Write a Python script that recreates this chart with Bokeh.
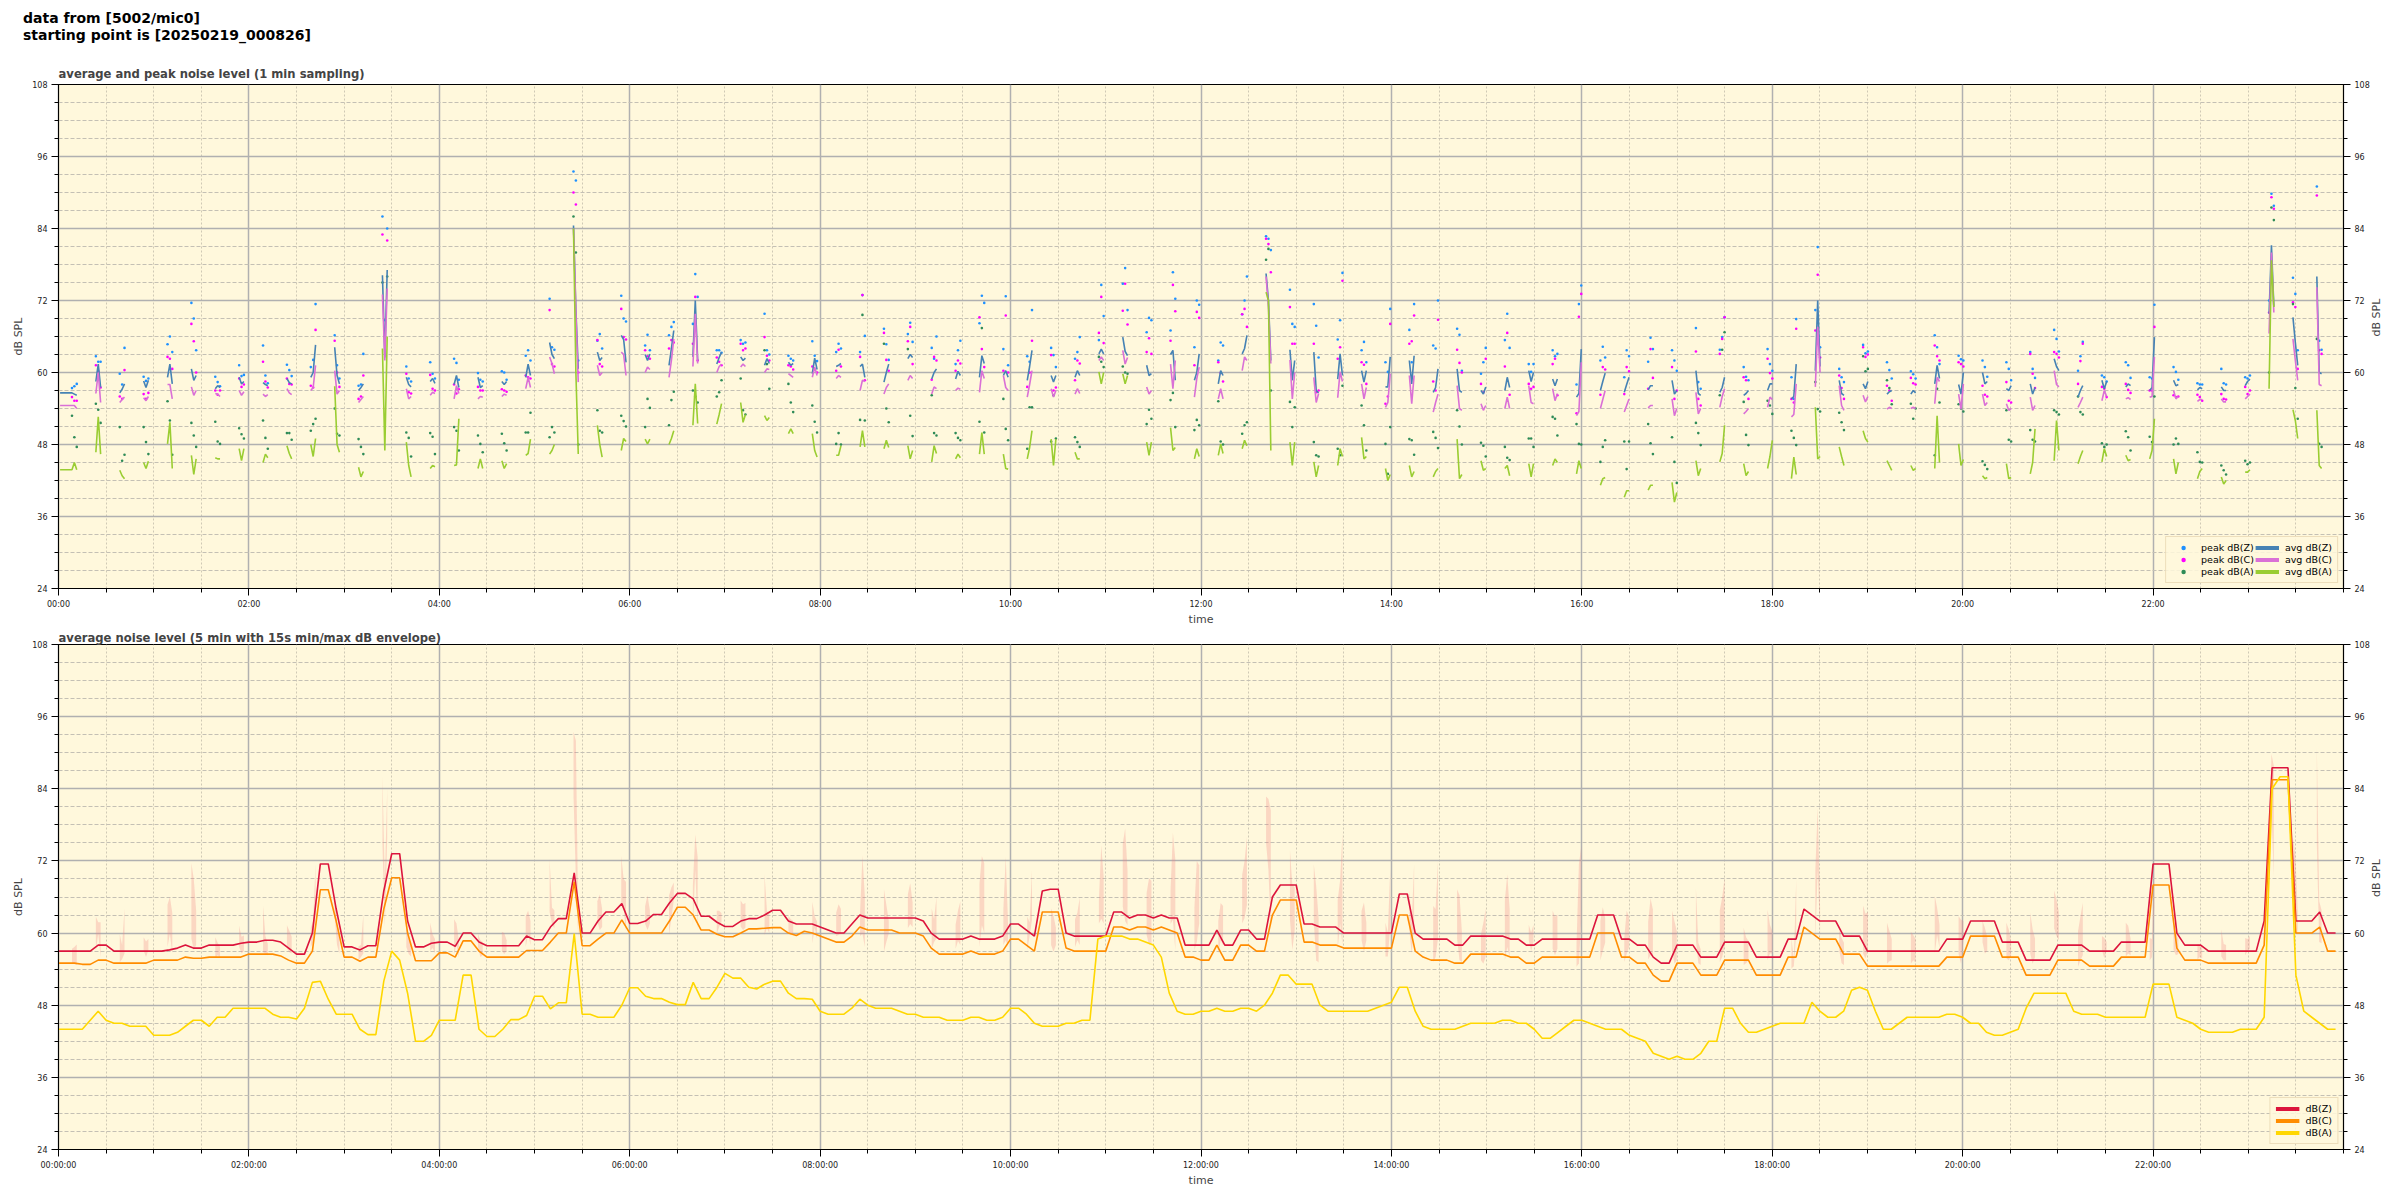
import math
from bokeh.plotting import figure
from bokeh.models import Range1d, FixedTicker, LinearAxis, Legend, LegendItem, Div
from bokeh.layouts import column
from bokeh.embed import file_html
from bokeh.resources import INLINE

nan = float("nan")
FONT = "DejaVu Sans"

# ---------------- texts ----------------
suptitle_lines = ["data from [5002/mic0]", "starting point is [20250219_000826]"]
title_top = "average and peak noise level (1 min sampling)"
title_bottom = "average noise level (5 min with 15s min/max dB envelope)"
hour_ticks = [0, 120, 240, 360, 480, 600, 720, 840, 960, 1080, 1200, 1320]
top_tick_labels = ["00:00", "02:00", "04:00", "06:00", "08:00", "10:00", "12:00",
                   "14:00", "16:00", "18:00", "20:00", "22:00"]
bottom_tick_labels = ["00:00:00", "02:00:00", "04:00:00", "06:00:00", "08:00:00", "10:00:00",
                      "12:00:00", "14:00:00", "16:00:00", "18:00:00", "20:00:00", "22:00:00"]
db_ticks = [24, 36, 48, 60, 72, 84, 96, 108]

# ---------------- top panel: 1-min samples, recorded in bursts every ~15 min ----------------
burst_first_min = 8.5
burst_period_min = 15.05
sample_offsets_min = [0.0, 1.5, 3.0]
lead_t = [1.0]
lead_z = [56.6]
lead_c = [54.5]
lead_a = [43.8]

avg_z = [
 [56.6,56.4,56.2],[58.5,61.4,57.5],[56.6,57.2,58.1],[58.6,57.5,58.7],[59.2,61.4,58.1],
 [60.6,58.7,59.5],[57.3,57.8,57.5],[59.2,58.1,58.5],[58.3,58.0,57.8],[59.0,58.3,58.1],
 [59.2,60.0,64.6],[64.2,59.5,58.1],[57.0,57.5,58.1],[76.2,62.5,77.1],[59.2,58.0,57.6],
 [58.5,59.0,58.2],[58.0,59.5,57.5],[59.2,57.5,57.8],[58.5,58.0,58.5],[59.2,61.4,59.5],
 [65.0,63.0,62.3],[84.5,70.5,60.6],[63.4,62.0,62.5],[66.2,65.5,61.7],[63.0,62.0,63.1],
 [61.2,64.0,67.0],[62.6,72.0,62.0],[61.4,62.5,63.4],[62.6,62.0,62.4],[61.2,62.3,61.5],
 [61.7,61.2,61.5],[59.8,62.4,60.5],[61.0,61.2,61.5],[61.0,61.4,59.2],[58.4,60.0,61.4],
 [62.3,63.0,62.5],[58.9,60.0,60.6],[58.9,60.2,59.5],[59.2,62.8,61.5],[59.5,60.3,59.2],
 [58.7,61.0,63.7],[59.5,58.4,59.5],[59.2,60.3,59.5],[63.1,63.9,63.1],[65.9,63.5,62.8],
 [61.2,59.5,59.8],[63.0,63.7,58.7],[58.7,60.0,63.1],[58.1,60.3,59.5],[63.1,64.0,66.2],
 [76.5,72.0,62.0],[63.8,58.7,62.0],[63.4,57.0,56.6],[58.9,63.1,59.5],[60.3,58.4,60.3],
 [57.6,57.6,62.6],[62.0,58.1,62.8],[56.7,57.5,60.6],[60.6,57.0,56.7],[57.0,56.4,57.6],
 [57.0,59.2,57.5],[60.3,58.5,60.0],[58.9,57.8,58.9],[55.9,56.5,63.9],[57.0,58.5,59.9],
 [56.7,58.0,59.2],[57.1,57.8,57.8],[58.7,56.4,57.0],[60.3,56.5,56.2],[56.7,57.5,59.2],
 [56.2,56.5,57.0],[57.0,58.1,58.1],[55.6,56.0,61.4],[60.3,72.0,61.0],[58.7,56.5,56.2],
 [58.1,57.3,58.5],[56.4,56.8,57.0],[56.4,57.0,56.6],[58.1,61.2,59.0],[58.0,56.4,60.0],
 [60.0,58.1,58.5],[57.3,57.0,57.8],[58.1,56.4,57.5],[62.3,61.0,60.3],[55.9,57.0,57.8],
 [58.7,57.3,58.5],[57.6,58.1,57.8],[57.0,57.5,65.9],[58.7,57.8,58.0],[57.1,57.5,57.3],
 [57.6,57.0,57.0],[57.8,58.5,58.9],[69.8,81.2,71.0],[69.2,65.0,61.2],[76.0,60.0,59.8]]

avg_c = [
 [54.5,54.5,54.0],[56.5,60.0,55.0],[55.0,55.5,55.9],[55.8,55.3,56.0],[58.0,58.0,55.6],
 [57.6,56.2,57.0],[56.5,56.4,56.0],[57.0,56.2,56.8],[56.4,56.0,56.3],[57.3,56.6,56.3],
 [57.0,57.5,61.2],[60.3,56.4,57.0],[55.0,55.5,56.0],[73.0,62.0,74.0],[57.3,55.6,56.0],
 [56.2,56.7,56.5],[55.6,57.8,56.5],[55.6,56.0,55.9],[56.0,56.4,56.2],[57.3,59.2,57.5],
 [62.6,61.5,59.8],[84.0,70.0,58.4],[61.2,59.5,60.0],[63.4,63.0,59.5],[60.0,60.9,60.5],
 [59.2,62.0,65.6],[61.0,69.8,61.5],[60.0,61.0,61.4],[60.9,61.4,61.0],[60.0,60.6,60.5],
 [59.8,59.5,59.2],[59.2,60.9,59.5],[59.0,59.5,59.2],[57.0,58.7,58.5],[56.4,57.5,58.1],
 [58.7,59.5,59.0],[56.4,57.6,57.3],[57.0,57.4,57.2],[56.7,60.3,59.0],[59.5,57.5,57.0],
 [55.9,58.0,60.3],[57.3,55.9,57.0],[56.4,57.3,56.5],[62.0,62.6,62.0],[63.7,61.4,62.5],
 [57.6,56.4,57.0],[61.4,57.3,62.0],[55.9,59.0,60.9],[55.6,57.3,55.6],[60.3,62.6,62.0],
 [76.0,71.0,61.5],[62.1,55.6,60.0],[59.2,55.0,56.5],[55.8,60.1,58.5],[58.1,55.6,57.5],
 [54.2,55.0,59.8],[59.5,54.8,59.5],[53.4,55.0,56.4],[57.8,54.0,53.7],[54.8,53.7,54.5],
 [54.0,55.9,54.0],[57.8,55.0,54.8],[57.3,55.3,56.5],[52.8,53.5,61.7],[54.0,55.5,57.0],
 [53.4,54.5,55.6],[54.1,54.5,54.5],[55.6,52.8,54.0],[56.7,53.1,54.0],[54.2,56.0,57.3],
 [53.1,53.5,54.0],[54.2,55.9,55.5],[52.6,53.0,58.1],[57.6,67.6,60.0],[57.8,54.5,53.7],
 [56.2,55.1,56.0],[53.9,54.2,54.0],[54.0,54.2,54.0],[54.8,59.2,58.5],[56.4,53.9,58.1],
 [56.4,54.5,55.0],[54.8,53.7,54.0],[55.9,53.7,54.5],[60.3,58.0,57.6],[54.2,55.0,55.9],
 [55.3,57.0,56.0],[55.6,55.8,55.5],[55.9,56.0,62.6],[57.0,55.6,56.0],[55.2,55.5,55.5],
 [55.6,55.1,55.1],[55.6,56.0,56.4],[66.5,80.0,70.0],[65.6,62.0,58.7],[74.2,58.0,57.8]]

avg_a = [
 [43.8,45.0,43.8],[46.7,52.6,46.4],[43.7,42.8,42.3],[45.0,44.0,45.2],[48.1,51.7,44.0],
 [46.2,43.0,45.6],[45.8,45.6,45.6],[47.3,45.3,47.3],[45.0,46.4,45.8],[47.8,46.5,45.6],
 [48.0,46.0,49.0],[57.7,48.0,46.7],[44.2,42.6,43.5],[64.0,47.0,66.0],[48.4,44.5,42.6],
 [44.0,44.5,44.3],[44.5,44.6,52.3],[44.0,45.6,44.0],[45.3,44.0,44.8],[46.2,46.5,48.9],
 [46.4,47.0,48.0],[84.0,60.0,46.4],[51.2,48.0,45.9],[47.0,49.0,48.5],[48.9,48.1,48.9],
 [48.0,49.0,50.3],[51.2,58.1,51.5],[51.4,53.0,54.8],[55.0,51.7,53.0],[52.8,52.0,52.5],
 [49.8,50.6,49.8],[49.8,47.0,45.9],[46.2,46.2,47.8],[47.6,50.3,47.6],[47.3,48.7,47.5],
 [47.8,45.6,47.0],[45.1,47.8,46.5],[45.6,46.4,45.8],[46.4,50.0,46.4],[46.4,44.0,43.9],
 [45.6,47.5,50.3],[48.9,44.5,48.9],[46.7,45.6,45.6],[60.1,58.1,60.0],[59.8,58.1,59.5],
 [48.4,46.2,48.4],[50.8,47.0,47.5],[45.6,47.3,46.0],[46.2,48.1,46.5],[47.3,48.7,47.8],
 [73.4,72.0,47.0],[48.4,44.5,48.4],[45.1,42.6,44.5],[44.5,47.3,46.0],[49.2,45.6,46.0],
 [44.0,42.0,43.0],[44.5,42.6,43.5],[42.6,43.5,44.0],[48.9,42.3,43.0],[45.3,43.7,44.0],
 [44.0,44.5,42.8],[44.8,42.6,44.8],[44.5,45.6,45.0],[43.1,45.3,44.0],[41.2,42.3,42.5],
 [39.2,40.3,40.3],[40.4,41.2,41.2],[41.7,38.4,40.0],[45.3,42.8,44.0],[45.1,46.5,51.2],
 [44.8,42.8,43.5],[44.0,46.0,48.7],[42.3,45.9,43.0],[54.2,45.6,46.0],[47.6,46.0,44.5],
 [50.3,49.0,48.4],[45.3,44.5,43.7],[44.5,43.7,44.0],[44.0,52.8,45.0],[48.1,44.5,45.5],
 [42.8,42.3,42.5],[44.8,42.3,42.5],[43.1,45.0,50.6],[45.3,52.0,47.0],[44.8,46.0,47.0],
 [45.1,47.3,46.0],[46.2,45.3,45.5],[45.6,47.0,52.3],[45.6,43.1,45.0],[42.3,43.5,44.0],
 [42.6,41.4,42.0],[43.4,43.4,43.8],[57.3,78.7,70.9],[53.8,52.0,49.0],[53.7,44.5,44.0]]

peak_z = [
 [57.4,57.7,58.1],[62.7,61.8,61.8],[59.8,58.0,64.1],[59.3,58.6,59.0],[64.7,66.0,63.4],
 [71.6,69.0,63.7],[59.3,58.4,57.7],[61.2,59.4,59.6],[64.5,59.5,58.2],[61.3,60.4,59.4],
 [60.9,62.1,71.4],[66.2,61.2,59.0],[57.8,58.0,63.1],[86.0,68.7,84.0],[61.0,59.0,58.5],
 [61.7,59.8,59.0],[62.3,61.6,58.8],[59.9,58.8,58.5],[60.2,60.0,58.8],[62.8,63.7,62.0],
 [72.3,64.2,63.8],[93.5,92.0,62.0],[65.3,66.4,64.0],[72.8,69.0,68.5],[64.5,66.3,63.7],
 [66.2,67.6,68.4],[68.1,76.4,72.6],[63.7,63.7,63.3],[65.4,64.8,65.0],[69.8,63.7,63.0],
 [62.8,62.3,62.0],[65.2,62.8,61.9],[63.4,64.8,64.0],[63.4,72.9,66.1],[67.3,64.7,62.1],
 [66.4,68.3,65.1],[64.1,62.3,66.0],[61.4,63.7,65.3],[68.2,72.8,71.6],[63.9,72.7,61.2],
 [62.7,61.8,70.4],[64.1,62.9,60.9],[62.3,63.4,65.9],[65.4,74.6,69.4],[74.8,77.4,70.4],
 [66.7,69.1,68.7],[67.0,76.7,72.3],[64.2,72.0,71.3],[62.0,65.0,64.5],[69.7,72.0,76.0],
 [82.7,82.3,80.4],[73.8,68.1,67.6],[71.4,67.8,62.5],[65.5,68.7,76.6],[63.7,65.1,61.7],
 [61.7,60.1,70.6],[67.1,61.7,71.4],[64.5,64.0,72.0],[67.3,66.3,60.3],[59.8,61.7,64.1],
 [65.4,69.8,64.1],[61.4,60.1,61.4],[63.7,62.7,63.1],[58.0,71.4,74.5],[62.0,64.3,62.5],
 [59.2,63.7,62.7],[61.8,65.8,63.9],[63.7,62.0,60.3],[67.4,58.4,57.3],[63.8,65.9,69.2],
 [60.9,59.3,58.7],[63.9,61.4,60.3],[59.2,55.6,68.9],[70.4,80.9,64.2],[60.6,59.2,58.4],
 [64.6,63.2,63.5],[61.7,60.4,59.0],[60.2,59.7,59.0],[66.2,64.2,61.4],[62.8,62.2,62.0],
 [62.0,60.9,59.3],[61.7,60.6,58.7],[63.4,60.6,59.1],[67.1,65.6,63.5],[60.3,62.7,65.1],
 [59.5,59.2,58.5],[61.7,61.2,59.1],[59.2,59.0,71.3],[60.9,60.1,58.8],[58.2,58.0,58.0],
 [60.6,58.2,58.0],[59.2,59.0,59.5],[72.0,89.8,87.8],[75.8,73.1,63.7],[91.0,65.3,63.8]]

peak_c = [
 [55.9,55.3,55.3],[61.2,60.2,57.5],[56.0,55.6,60.4],[56.4,55.6,56.6],[62.6,62.3,60.6],
 [68.1,65.2,60.0],[57.0,56.3,57.0],[59.0,57.6,58.0],[61.8,58.5,57.5],[59.0,58.1,58.0],
 [57.8,57.5,67.1],[65.3,60.0,57.6],[55.6,56.0,59.5],[83.0,67.0,82.0],[59.8,56.7,56.5],
 [59.6,57.3,57.0],[58.0,56.5,57.2],[57.6,57.0,57.0],[57.2,57.0,56.8],[59.5,59.2,59.0],
 [70.4,61.4,61.0],[90.0,88.0,60.0],[65.4,61.4,61.0],[70.6,65.9,65.5],[63.7,62.7,62.3],
 [64.0,65.4,65.0],[64.8,72.6,62.0],[62.5,61.8,61.2],[64.8,63.7,64.0],[65.9,62.8,62.0],
 [61.2,61.0,60.5],[61.0,60.5,60.0],[60.3,63.8,61.0],[62.6,72.9,58.7],[66.6,62.1,60.3],
 [65.2,67.6,61.4],[58.8,62.6,62.0],[60.3,62.0,61.5],[69.2,63.9,60.9],[60.3,69.5,60.0],
 [57.6,60.0,65.3],[62.9,57.0,57.5],[58.7,62.0,61.5],[66.6,72.6,64.9],[70.3,74.8,68.0],
 [63.4,65.7,63.1],[65.3,74.6,70.2],[61.2,70.1,69.1],[61.7,59.9,58.5],[69.7,70.6,67.6],
 [82.3,81.4,76.7],[70.9,64.8,64.8],[64.8,56.7,57.0],[62.3,64.2,75.3],[61.7,61.3,58.1],
 [54.8,56.0,68.1],[64.8,65.2,69.5],[58.5,57.0,68.8],[63.8,61.6,60.0],[58.1,56.7,62.3],
 [61.0,66.6,56.3],[58.1,57.3,57.6],[61.4,62.3,56.2],[53.2,69.3,73.1],[56.3,60.9,60.5],
 [56.4,60.9,60.2],[57.3,63.9,59.1],[60.9,55.6,57.0],[63.5,55.6,54.5],[63.1,65.6,69.2],
 [59.2,58.7,55.6],[62.3,59.9,59.0],[55.6,55.0,67.3],[67.0,76.3,62.5],[59.5,57.4,55.6],
 [64.2,62.6,63.0],[57.8,57.0,55.3],[59.1,58.2,58.0],[64.5,62.7,62.0],[61.7,61.4,61.0],
 [57.8,56.3,56.0],[58.4,55.3,55.0],[63.1,59.8,57.4],[63.4,63.1,62.5],[58.1,61.9,64.8],
 [57.6,57.3,55.9],[58.1,57.1,56.6],[57.0,57.0,67.6],[56.2,55.9,56.0],[56.3,55.9,55.3],
 [56.4,55.6,55.5],[57.6,56.4,57.0],[70.0,89.2,87.3],[71.7,70.9,60.6],[89.5,63.7,63.1]]

peak_a = [
 [52.8,49.2,47.6],[54.8,53.8,51.6],[50.9,45.3,46.3],[50.9,48.4,46.4],[55.2,52.0,46.3],
 [51.6,49.5,47.6],[51.8,48.5,48.1],[50.7,49.7,49.0],[52.0,49.1,47.3],[49.9,49.9,48.8],
 [50.3,51.4,52.3],[54.0,49.8,49.5],[48.9,47.6,46.4],[75.0,66.0,76.0],[50.0,49.1,46.0],
 [49.9,49.3,46.4],[50.9,50.3,47.0],[49.5,48.1,46.7],[49.8,48.2,47.0],[50.0,50.0,53.3],
 [49.2,50.9,50.0],[86.0,80.0,48.0],[53.7,50.3,50.0],[52.8,51.9,51.0],[50.9,55.6,54.1],
 [51.2,55.4,56.8],[57.0,56.0,55.0],[56.0,56.7,58.7],[59.0,53.7,53.0],[63.7,61.4,57.3],
 [58.1,55.0,53.4],[54.5,51.8,50.0],[48.1,49.9,48.0],[52.1,69.6,52.0],[64.8,54.0,51.7],
 [63.9,52.8,49.4],[56.2,49.9,49.5],[49.9,49.1,48.7],[51.8,67.4,50.0],[55.6,50.6,48.7],
 [47.3,54.2,54.2],[48.5,56.2,49.0],[49.2,48.4,47.6],[62.6,61.8,60.9],[61.0,60.0,59.8],
 [51.4,53.8,52.3],[55.4,56.6,50.9],[50.4,52.1,51.2],[55.2,48.5,48.0],[49.8,51.2,51.7],
 [78.8,80.6,57.0],[55.1,50.9,54.2],[48.4,46.2,46.0],[47.3,46.2,57.8],[54.5,51.2,47.0],
 [48.1,43.1,50.9],[48.9,48.7,46.3],[50.1,49.1,47.4],[53.7,51.0,48.0],[48.3,47.8,46.0],
 [47.6,45.8,45.4],[49.0,49.0,47.6],[52.6,52.3,49.5],[51.4,48.1,48.0],[45.1,47.6,48.7],
 [48.5,43.9,48.5],[51.4,48.2,46.4],[49.2,45.1,41.6],[51.6,49.9,47.9],[56.2,63.8,66.7],
 [55.1,49.6,47.9],[55.3,54.5,53.1],[50.3,49.1,47.9],[58.4,53.9,53.5],[53.3,51.7,50.4],
 [62.7,60.2,60.6],[58.7,57.4,54.7],[54.8,52.3,54.0],[46.2,57.3,55.0],[54.7,54.0,53.5],
 [45.2,44.6,43.9],[53.7,48.8,48.5],[50.4,48.8,48.5],[53.7,53.4,53.0],[56.0,53.4,53.0],
 [48.2,47.6,48.0],[50.2,49.2,47.0],[49.3,48.4,56.0],[48.0,49.0,48.1],[46.7,45.1,45.0],
 [44.5,43.7,43.0],[45.3,44.7,45.0],[60.0,87.5,85.4],[71.4,57.4,52.3],[65.6,48.1,47.6]]

# ---------------- bottom panel: 5-min averages (one row = one hour) ----------------
bot_z = [
 57,57,57,57,57,58,58,57,57,57,57,57,
 57,57,57.2,57.5,58,57.5,57.5,58,58,58,58,58.3,
 58.5,58.5,58.8,58.8,58.5,57.5,56.5,56.5,60,71.5,71.5,64,
 57.7,57.7,57.2,57.9,57.9,67,73.2,73.2,62,57.7,57.7,58.3,
 58.5,58.5,57.8,60,60,58.5,57.9,57.9,57.9,57.9,57.9,59.5,
 58.9,58.9,61,62.4,62.4,70,60,60,62,63.5,63.5,64.9,
 61.6,61.6,62,63.1,63.1,65,66.6,66.6,65.7,62.8,62.8,61.8,
 61.1,61.1,62,62.4,62.4,63,63.8,63.8,62,61.5,61.5,61.5,
 61,60.5,60,60,61.5,63,62.5,62.5,62.5,62.5,62.5,62.5,
 62.5,62,60,59,59,59,59,59.5,59,59,59,59.5,
 61.5,61.5,60.5,59.5,67,67.3,67.3,60,59.5,59.5,59.5,59.5,
 59.5,63.5,63.5,62.5,63,63,62.5,63,62.5,62.5,58,58,
 58,58,60.5,58,58,60.5,60.5,59,59,66,68,68,
 68,61.5,61.5,61,61,61,60,60,60,60,60,60,
 60,66.5,66.5,60,59,59,59,59,58,58,59.5,59.5,
 59.5,59.5,59.5,59,59,58,58,59,59,59,59,59,
 59,59,63,63,63,59,59,58,58,56,55,55,
 58,58,58,56,56,56,58.5,58.5,58.5,58.5,56,56,
 56,56,59,59,64,63,62,62,62,59.5,59.5,59.5,
 57,57,57,57,57,57,57,57,57,57,59,59,
 59,62,62,62,62,58.5,58.5,58.5,55.5,55.5,55.5,55.5,
 58,58,58,58,57,57,57,57,58.5,58.5,58.5,58.5,
 71.5,71.5,71.5,60,58,58,58,57,57,57,57,57,
 57,57,62,87.5,87.5,87.5,62,62,62,63.5,60,60]

bot_c = [
 55,55,55,54.8,54.8,55.5,55.5,55,55,55,55,55,
 55.5,55.5,55.5,55.5,56,55.8,55.8,56,56,56,56,56,
 56.5,56.5,56.5,56.5,56.2,55.5,55,55,57,67.2,67.2,62,
 56,56,55.3,56,56,64,69.2,69.2,60,55.4,55.4,55.4,
 56.7,56.7,56,58.7,58.7,57,56,56,56,56,56,57.1,
 57.1,57.1,58.5,60,60,68.5,57.9,57.9,59,60,60,62.2,
 60,60,60,60,60,62,64.3,64.3,63,60.5,60.5,59.8,
 59.4,59.4,60,60.7,60.7,60.8,60.9,60.9,60,59.6,60.3,60,
 59.5,59,58.5,58.5,59.5,61,60.5,60.5,60.5,60.5,60,60,
 60,59.5,57.5,56.5,56.5,56.5,56.5,57,56.5,56.5,56.5,57,
 59,59,58,57,63.5,63.5,63.5,57.5,57,57,57,57,
 57,61,61,60.5,61,61,60.5,61,60.5,60,56,56,
 55.5,55.5,58,55.5,55.5,58,58,57,57,63,65.5,65.5,
 65.5,58.5,58.5,58,58,58,57.5,57.5,57.5,57.5,57.5,57.5,
 57.5,63,63,57,56,55.5,55.5,55.5,55,55,56.5,56.5,
 56.5,56.5,56.5,56,56,55,55,56,56,56,56,56,
 56,56,60,60,60,56,56,55,55,53,52,52,
 55,55,55,53,53,53,55.5,55.5,55.5,55.5,53,53,
 53,53,56,56,61,60,59,59,59,56.5,56.5,56.5,
 54.5,54.5,54.5,54.5,54.5,54.5,54.5,54.5,54.5,54.5,56,56,
 56,59.5,59.5,59.5,59.5,56,56,56,53,53,53,53,
 55.5,55.5,55.5,55.5,54.5,54.5,54.5,54.5,56,56,56,56,
 68,68,68,57.5,55.5,55.5,55.5,55,55,55,55,55,
 55,55,58,85.5,85.5,85.5,60,60,60,61,57,57]

bot_a = [
 44,44,44,44,45.5,47,45.5,45,45,44.5,44.5,44.5,
 43,43,43,43.5,44.5,45.5,45.5,44.5,46,46,47.5,47.5,
 47.5,47.5,47.5,46.5,46,46,45.7,47.5,51.8,52,49,46.5,
 46.5,46.5,44,43.1,43.1,52,57,55.5,50,42,42,43,
 45.5,45.5,45.5,53,53,44,42.8,42.8,44,45.6,45.6,46.3,
 49.5,49.5,47.4,48.4,48.4,59.9,46.5,46.5,46,46,46,48,
 50.9,50.9,49.5,49.1,49.1,48.5,48.1,48.1,51.8,49.1,49.1,51,
 53.3,52.5,52.5,51,50.7,51.5,52,52,50,49.1,49.1,49,
 47,46.5,46.5,46.5,47.5,49,48,47.5,47.5,47.5,47,46.5,
 46.5,46,46,46,45.5,45.5,45.5,46,46,45.5,45.5,46,
 47.5,47.5,46.5,45,44.5,44.5,44.5,45,45,45.5,45.5,59,
 59.5,59.5,59.5,59,59,58.5,58,56,50,47,46.5,46.5,
 47,47,47.5,47,47,47.5,47.5,47,48,50,53,53,
 51.5,51.5,51.5,48,47,47,47,47,47,47,47.5,48,
 48.5,51,51,47,44.5,44,44,44,44,44.5,45,45,
 45,45,45.5,45.5,45,45,44,42.5,42.5,43.5,44.5,45.5,
 45.5,45,44.5,44,44,44,43,42.5,42,40,39.5,39,
 39.5,39,39,40,42,42,47.5,47.5,45,43.5,43.5,44,
 44.5,45,45,45,45,48.5,47,46,46,47,50.5,51,
 50.5,47,44,44,45,46,46,46,46,46,46.5,46.5,
 46,45,45,43.5,43,43,43.5,44,47.5,50,50,50,
 50,50,47,46.5,46.5,46.5,46,46,46,46,46,46,
 51.5,51.5,51.5,46,45.5,45,44,43.5,43.5,43.5,43.5,44,
 44,44,46,84,86,86,53,47,46,45,44,44]

# ---------------- colours ----------------
C_AVG = {"Z": "#4682b4", "C": "#da70d6", "A": "#9acd32"}
C_PEAK = {"Z": "#1e90ff", "C": "#ff00ff", "A": "#2e8b57"}
C_BOT = {"Z": "#dc143c", "C": "#ff8c00", "A": "#ffd700"}
BG = "#fff8dc"

# ---------------- helpers ----------------
burst_t0 = [burst_first_min + burst_period_min * k for k in range(len(avg_z))]


def line_xy(series, lead_vals):
    xs, ys = list(lead_t), list(lead_vals)
    for i, trip in enumerate(series):
        for j, v in enumerate(trip):
            xs.append(burst_t0[i] + sample_offsets_min[j])
            ys.append(v)
        xs.append(nan)
        ys.append(nan)
    return xs, ys


def point_xy(series):
    xs, ys = [], []
    for i, trip in enumerate(series):
        for j, v in enumerate(trip):
            xs.append(burst_t0[i] + sample_offsets_min[j])
            ys.append(v)
    return xs, ys


def style(p, tick_labels, title, title_standoff):
    p.background_fill_color = BG
    p.border_fill_color = "white"
    p.outline_line_color = "black"
    p.outline_line_width = 1.2
    p.title.text = title
    p.title.text_font = FONT
    p.title.text_font_size = "11.6px"
    p.title.text_font_style = "bold"
    p.title.align = "left"
    p.title.standoff = title_standoff
    xt = FixedTicker(ticks=hour_ticks, minor_ticks=list(range(0, 1441, 30)))
    yt = FixedTicker(ticks=db_ticks, minor_ticks=list(range(24, 109, 3)))
    p.xaxis.ticker = xt
    p.xaxis.major_label_overrides = {t: l for t, l in zip(hour_ticks, tick_labels)}
    p.xaxis.axis_label = "time"
    p.yaxis.ticker = yt
    p.yaxis.axis_label = "dB SPL"
    yr = LinearAxis(ticker=yt, axis_label="dB SPL")
    p.add_layout(yr, "right")
    # matplotlib draws the right-hand label reading bottom-to-top, like the left one
    if "axis_label_orientation" in yr.properties():
        yr.axis_label_orientation = math.pi / 2
    for ax in [p.xaxis[0], p.yaxis[0], yr]:
        ax.major_label_text_font = FONT
        ax.major_label_text_font_size = "8px"
        ax.major_label_text_color = "#222222"
        ax.axis_label_text_font = FONT
        ax.axis_label_text_font_size = "11px"
        ax.axis_label_text_font_style = "normal"
        ax.major_tick_in = 0
        ax.major_tick_out = 7
        ax.minor_tick_in = 0
        ax.minor_tick_out = 4
        ax.major_label_standoff = 4
        ax.axis_label_standoff = 4
        ax.axis_line_color = "black"
    p.xaxis[0].axis_label_standoff = 1
    p.xgrid.ticker = xt
    p.ygrid.ticker = yt
    p.xgrid.grid_line_color = "#b0b0b0"
    p.ygrid.grid_line_color = "#b0b0b0"
    p.xgrid.grid_line_width = 1.5
    p.ygrid.grid_line_width = 1.5
    p.xgrid.minor_grid_line_color = "#cfc9b5"
    p.xgrid.minor_grid_line_dash = "2 2"
    p.ygrid.minor_grid_line_color = "#c4c0b4"
    p.ygrid.minor_grid_line_dash = "4 2"


def make_fig(title, tick_labels, frame_h, top, bottom, title_standoff):
    p = figure(frame_width=2285, frame_height=frame_h,
               x_range=Range1d(0, 1440), y_range=Range1d(24, 108),
               output_backend="svg", toolbar_location=None,
               min_border_left=58, min_border_right=50,
               min_border_top=top, min_border_bottom=bottom)
    style(p, tick_labels, title, title_standoff)
    return p


# ---------------- header ----------------
header = Div(text=('<div style="font-family:\'DejaVu Sans\';font-size:14px;font-weight:bold;'
                   'line-height:16.5px;padding-left:23px;padding-top:10px;color:#000;">'
                   + "<br>".join(suptitle_lines) + "</div>"),
             width=2390, height=52, margin=(0, 0, 0, 0))

# ---------------- top figure ----------------
p1 = make_fig(title_top, top_tick_labels, 504, 32, 36, 7)
for key, ser in (("Z", peak_z), ("C", peak_c), ("A", peak_a)):
    xs, ys = point_xy(ser)
    p1.scatter(xs, ys, marker="circle", size=2.6, color=C_PEAK[key], line_color=None)
for key, ser, lead in (("Z", avg_z, lead_z), ("C", avg_c, lead_c), ("A", avg_a, lead_a)):
    xs, ys = line_xy(ser, lead)
    p1.line(xs, ys, color=C_AVG[key], line_width=1.6)

# legend proxies (kept outside the visible range)
off_x = [-60, -50]
off_y = [0, 0]
leg_items = []
for key in ("Z", "C", "A"):
    r = p1.scatter(off_x, off_y, marker="circle", size=5, color=C_PEAK[key], line_color=None)
    leg_items.append(LegendItem(label="peak dB(%s)" % key, renderers=[r]))
for key in ("Z", "C", "A"):
    r = p1.line(off_x, off_y, color=C_AVG[key], line_width=4)
    leg_items.append(LegendItem(label="avg dB(%s)" % key, renderers=[r]))
leg1 = Legend(items=leg_items, location="bottom_right", ncols=2)

# ---------------- bottom figure ----------------
p2 = make_fig(title_bottom, bottom_tick_labels, 505, 12, 43, 0)
t5 = list(range(0, 1440, 5))
env_xs, env_ys = [], []
for i in range(len(avg_z)):
    xs = [burst_t0[i] + o for o in sample_offsets_min]
    hi = peak_z[i]
    lo = [v - 1.5 for v in avg_z[i]]
    env_xs.append(xs + xs[::-1])
    env_ys.append(hi + lo[::-1])
p2.patches(env_xs, env_ys, fill_color="#f08080", fill_alpha=0.28, line_color=None)
p2.line(t5, bot_z, color=C_BOT["Z"], line_width=1.6)
p2.line(t5, bot_c, color=C_BOT["C"], line_width=1.6)
p2.line(t5, bot_a, color=C_BOT["A"], line_width=1.6)
leg2_items = []
for key in ("Z", "C", "A"):
    r = p2.line(off_x, off_y, color=C_BOT[key], line_width=4)
    leg2_items.append(LegendItem(label="dB(%s)" % key, renderers=[r]))
leg2 = Legend(items=leg2_items, location="bottom_right")

for lg in (leg1, leg2):
    lg.label_text_font = FONT
    lg.label_text_font_size = "9.5px"
    lg.label_text_color = "black"
    lg.label_height = 11
    lg.glyph_height = 11
    lg.glyph_width = 24
    lg.label_standoff = 6
    lg.spacing = 1
    lg.padding = 5
    lg.margin = 5
    lg.background_fill_color = BG
    lg.background_fill_alpha = 0.85
    lg.border_line_color = "#dcc39a"
    lg.border_line_width = 1.5
p1.add_layout(leg1)
p2.add_layout(leg2)

layout = column(header, p1, p2, spacing=0)
open("out.html", "w").write(file_html(layout, INLINE))
